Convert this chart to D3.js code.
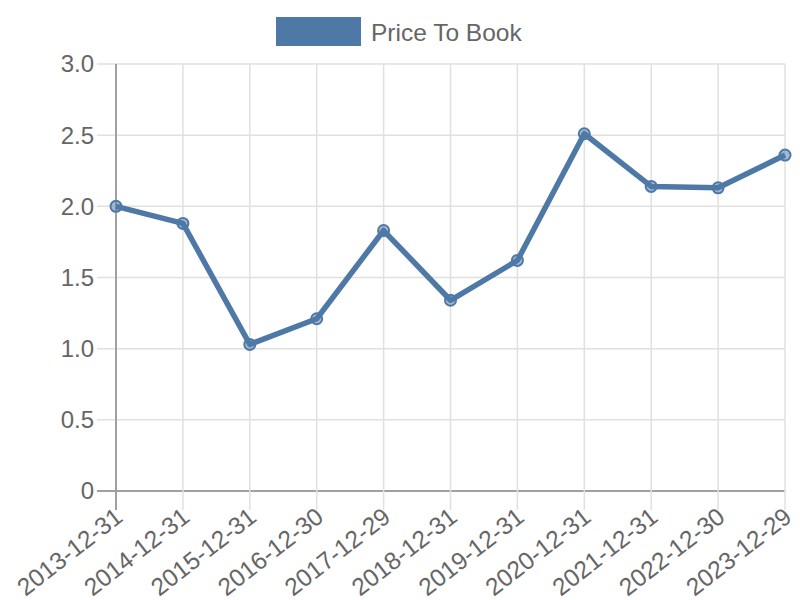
<!DOCTYPE html>
<html><head><meta charset="utf-8">
<script src="https://cdn.jsdelivr.net/npm/d3@7"></script>
<style>body{margin:0;background:#fff;} svg{display:block;font-family:"Liberation Sans",Arial,sans-serif;}</style>
</head><body>
<svg id="c" width="800" height="600"></svg>
<script>
const categories = ["2013-12-31","2014-12-31","2015-12-31","2016-12-30","2017-12-29","2018-12-31","2019-12-31","2020-12-31","2021-12-31","2022-12-30","2023-12-29"];
const priceToBook = [2.00,1.88,1.03,1.21,1.83,1.34,1.62,2.51,2.14,2.13,2.36];
const yTicks = [0,0.5,1.0,1.5,2.0,2.5,3.0];
const seriesName = "Price To Book";

(function(){
const svg = d3.select("#c");
const pl = 116, pr = 785, pt = 64, pb = 491;
const color = "#4e79a7";

const x = d3.scalePoint().domain(categories).range([pl, pr]);
const y = d3.scaleLinear().domain([0, 3]).range([pb, pt]);

// grid
const g = svg.append("g");
g.selectAll(".hg").data(yTicks).join("line")
  .attr("x1", pl - 19).attr("x2", pr).attr("y1", d => y(d)).attr("y2", d => y(d))
  .attr("stroke", d => d === 0 ? "#a0a0a0" : "#e0e0e0").attr("stroke-width", d => d===0?2:1.5);
g.selectAll(".vg").data(categories).join("line")
  .attr("x1", d => x(d)).attr("x2", d => x(d)).attr("y1", pt).attr("y2", pb + 19)
  .attr("stroke", (d,i) => i === 0 ? "#a0a0a0" : "#e0e0e0").attr("stroke-width", (d,i)=> i===0?2:1.5);

// y labels
svg.append("g").selectAll("text").data(yTicks).join("text")
  .attr("x", 94).attr("y", d => y(d)).attr("dy", "0.35em")
  .attr("text-anchor", "end").attr("font-size", 24).attr("fill", "#666")
  .text(d => d === 0 ? "0" : d3.format(".1f")(d));

// x labels
svg.append("g").selectAll("text").data(categories).join("text")
  .attr("transform", d => `translate(${x(d)+3},${pb + 22}) rotate(-38)`)
  .attr("text-anchor", "end").attr("dy", "0.35em").attr("font-size", 24.5).attr("fill", "#666")
  .text(d => d);

// line
const line = d3.line().x((d,i) => x(categories[i])).y(d => y(d));
svg.append("path").datum(priceToBook).attr("d", line)
  .attr("fill", "none").attr("stroke", color).attr("stroke-width", 5.5).attr("stroke-linejoin", "round");

svg.append("g").selectAll("circle").data(priceToBook).join("circle")
  .attr("cx", (d,i) => x(categories[i])).attr("cy", d => y(d)).attr("r", 5.5)
  .attr("fill", "rgba(78,121,167,0.5)").attr("stroke", color).attr("stroke-width", 2);

// legend
svg.append("rect").attr("x", 276).attr("y", 17).attr("width", 85).attr("height", 29).attr("fill", color);
svg.append("text").attr("x", 371).attr("y", 32).attr("dy", "0.35em")
  .attr("font-size", 24.5).attr("fill", "#666").text(seriesName);
})();
</script>
</body></html>
